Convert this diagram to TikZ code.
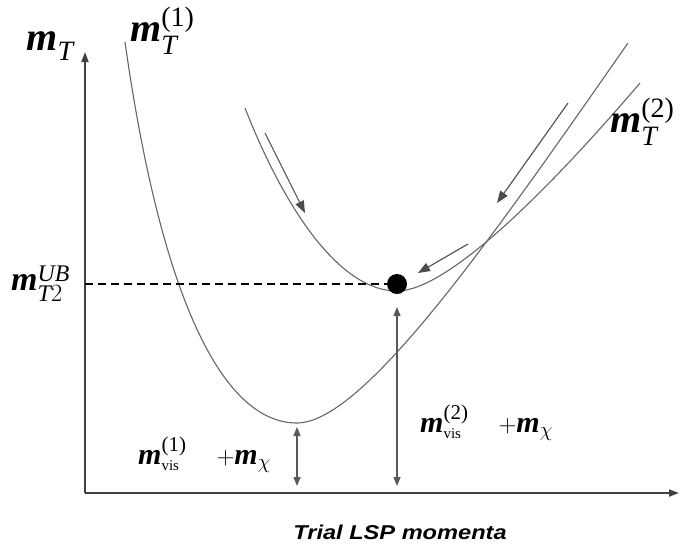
\documentclass[tikz,border=0pt]{standalone}
\usepackage{amsmath}
\usepackage{fontspec}
\setmainfont{Liberation Serif}
\newfontfamily\axisfont[FakeStretch=1.18]{Liberation Sans}
\usetikzlibrary{arrows.meta,positioning}
\newcommand{\mmass}{\textbf{\textit{m}}}
\tikzset{
  curve/.style={draw=black!60, line width=1.1pt},
  axis/.style={draw=black!75, line width=1.8pt, -{Triangle[length=10pt,width=7pt]}},
  gap/.style={draw=black!65, line width=1.4pt,
    {Triangle[length=9pt,width=7pt]}-{Triangle[length=9pt,width=7pt]}},
  descent/.style={draw=black!70, line width=1.1pt, -{Triangle[length=12pt,width=9pt]}},
  ubline/.style={draw=black, line width=1.6pt, dash pattern=on 8pt off 5pt},
  biglabel/.style={font=\fontsize{40}{44}\selectfont, inner sep=0pt},
  midlabel/.style={font=\fontsize{34}{38}\selectfont, inner sep=0pt},
  smalllabel/.style={font=\fontsize{30}{34}\selectfont, inner sep=0pt},
}

\begin{document}
\begin{tikzpicture}[x=1pt, y=-1pt]
  \useasboundingbox (0,0) rectangle (682,547);
  % axes
  \coordinate (O) at (85,493);
  \coordinate (ytop) at (85,52);
  \coordinate (xend) at (679,493);
  \draw[axis] (O) -- (ytop);
  \draw[axis] (O) -- (xend);
  \node[biglabel] (mT) at (50,46) {$\mmass_{\textit{T}}$};
  \node[font=\axisfont\bfseries\itshape\fontsize{20}{22}\selectfont, inner sep=0pt]
    (xlabel) at (400,532) {Trial LSP momenta};
  % curve 1 : wide minimum
  \draw[curve] (125,42) .. controls (160,290) and (220,423) .. (297,423)
    .. controls (365,423) and (498,229) .. (628,43);
  \node[biglabel, anchor=south west] (mT1) at (130,55) {$\mmass_{\textit{T}}^{\text{(1)}}$};
  % curve 2 : the true one
  \draw[curve] (245,108) .. controls (285,210) and (340,291) .. (397,291)
    .. controls (445,291) and (540,200) .. (640,83);
  \node[biglabel, anchor=south west] (mT2) at (610,146) {$\mmass_{\textit{T}}^{\text{(2)}}$};
  % upper bound and its minimum
  \node[circle, fill=black, minimum size=20pt, inner sep=0pt] (lsp) at (397,284) {};
  \coordinate (ub) at (85,284);
  \draw[ubline] (ub) -- (lsp.west);
  \node[midlabel, anchor=east] (mUB) at (70,284) {$\mmass_{\textit{T}2}^{\textit{UB}}$};
  % gaps down to the axis
  \coordinate (min1) at (297,427);
  \coordinate (base1) at (297,486);
  \draw[gap] (min1) -- (base1);
  \coordinate (min2) at (397,307);
  \coordinate (base2) at (397,486);
  \draw[gap] (min2) -- (base2);
  \node[smalllabel, anchor=west] (vis1) at (138,455)
    {$\mmass^{\text{(1)}}_{\scriptscriptstyle\text{vis}}\quad{+}\mmass_{\chi}$};
  \node[smalllabel, anchor=west] (vis2) at (420,423)
    {$\mmass^{\text{(2)}}_{\scriptscriptstyle\text{vis}}\quad{+}\mmass_{\chi}$};
  % descent arrows
  \coordinate (d1a) at (265,133);
  \coordinate (d1b) at (305,213);
  \draw[descent] (d1a) -- (d1b);
  \coordinate (d2a) at (468,244);
  \coordinate (d2b) at (418,273);
  \draw[descent] (d2a) -- (d2b);
  \coordinate (d3a) at (568,103);
  \coordinate (d3b) at (497,203);
  \draw[descent] (d3a) -- (d3b);
\end{tikzpicture}
\end{document}
